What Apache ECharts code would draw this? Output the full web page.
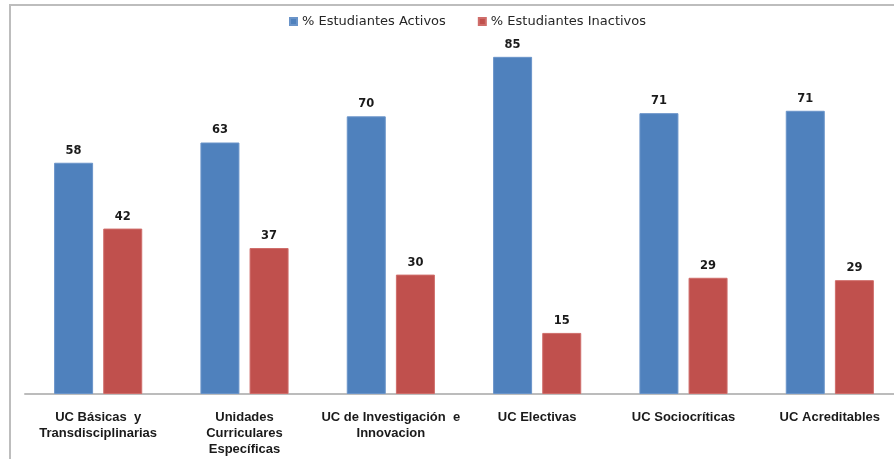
<!DOCTYPE html>
<html>
<head>
<meta charset="utf-8">
<script src="https://cdn.jsdelivr.net/npm/echarts@6/dist/echarts.min.js"></script>
<style>
html,body{margin:0;padding:0;background:#fff;overflow:hidden;}
#chart{width:912px;height:459px;}
</style>
</head>
<body>
<div id="chart"></div>
<script>
const categories = [
  "UC Básicas  y\nTransdisciplinarias",
  "Unidades\nCurriculares\nEspecíficas",
  "UC de Investigación  e\nInnovacion",
  "UC Electivas",
  "UC Sociocríticas",
  "UC Acreditables"
];
const seriesNames = ["% Estudiantes Activos", "% Estudiantes Inactivos"];
const activos = [58.3, 63.4, 70.0, 85.0, 70.8, 71.4];
const inactivos = [41.7, 36.8, 30.1, 15.4, 29.3, 28.7];
const yMax = 90;

const chart = echarts.init(document.getElementById('chart'));
const labelStyle = {
  show: true,
  position: 'top',
  distance: 6,
  fontFamily: 'DejaVu Sans',
  fontWeight: 'bold',
  fontSize: 11.5,
  color: '#1a1a1a',
  formatter: p => String(Math.round(p.value))
};
chart.setOption({
  animation: false,
  backgroundColor: '#ffffff',
  graphic: [{
    type: 'rect',
    shape: { x: 10, y: 5, width: 1000, height: 1000 },
    style: { fill: 'none', stroke: '#bdbdbd', lineWidth: 2 },
    silent: true
  }],
  legend: {
    top: 10,
    left: 284,
    itemWidth: 7,
    itemHeight: 7,
    itemGap: 32,
    icon: 'rect',
    textStyle: { fontFamily: 'DejaVu Sans', fontSize: 13, color: '#262626' },
    data: seriesNames
  },
  grid: { left: 25, top: 37, width: 878, height: 357, containLabel: false },
  xAxis: {
    type: 'category',
    data: categories,
    axisTick: { show: false },
    axisLine: { lineStyle: { color: '#bcbcbc', width: 2 } },
    axisLabel: {
      interval: 0,
      margin: 15,
      fontFamily: 'Liberation Sans, Arial, sans-serif',
      fontWeight: 'bold',
      fontSize: 13,
      lineHeight: 16,
      color: '#1a1a1a'
    }
  },
  yAxis: {
    type: 'value',
    min: 0,
    max: yMax,
    show: false,
    splitLine: { show: false }
  },
  series: [
    {
      name: seriesNames[0],
      type: 'bar',
      data: activos,
      barWidth: 39,
      barGap: '26%',
      itemStyle: { color: '#4f81bd', borderColor: '#6a94c9', borderWidth: 1 },
      label: labelStyle
    },
    {
      name: seriesNames[1],
      type: 'bar',
      data: inactivos,
      barWidth: 39,
      barGap: '26%',
      itemStyle: { color: '#c0504d', borderColor: '#cf6d6a', borderWidth: 1 },
      label: labelStyle
    }
  ]
});
</script>
</body>
</html>
